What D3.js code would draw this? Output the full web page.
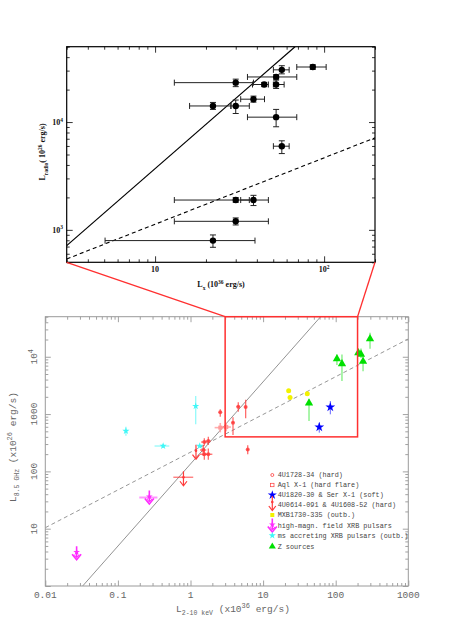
<!DOCTYPE html>
<html><head><meta charset="utf-8">
<script src="https://cdn.jsdelivr.net/npm/d3@7"></script>
<style>body{margin:0;background:#fff}svg{display:block}</style>
</head><body>
<svg id="c" width="457" height="619"></svg>
<script>
// ---------- Inset data (Z-source / atoll detail) ----------
const insetLx   = [85.7, 56.2, 52, 30, 44.2, 52, 38.2, 22, 30, 52, 56.2, 30, 38.2, 30, 22];
const insetLxLo = [68.9, 50.1, 35.2, 13.0, 37.7, 50.1, 32.1, 16.0, 28.1, 35.2, 50.1, 13.0, 32.1, 13.0, 5.06];
const insetLxHi = [102.8, 62.1, 68.9, 38.2, 46.8, 58.0, 44.4, 28.1, 36.1, 68.9, 62.1, 36.1, 46.8, 46.8, 39];
const insetLr   = [32400, 30500, 26200, 23200, 22300, 22300, 16300, 14100, 14100, 11100, 5970, 1890, 1890, 1200, 795];
const insetLrLo = [30800, 28000, 25000, 21300, 21300, 20500, 15300, 13100, 12000, 9040, 5100, 1800, 1680, 1110, 689];
const insetLrHi = [34000, 33300, 27500, 25000, 23300, 24500, 17400, 15200, 16000, 13100, 6700, 1990, 2090, 1290, 897];
// fits in the inset: [x, y] end points in data units
const insetSolidFit  = [[3, 714], [67.3, 50000]];
const insetDashedFit = [[3, 537], [200, 7140]];
const insetXTicks = [10, 100];
const insetYTicks = [1000, 10000];

// ---------- Main plot data: [Lx, Lr, xlo, xhi, ylo, yhi] ----------
const hard1728 = [
  [2.57,1080,2.45,2.70,900,1210],[4.55,1345,4.3,4.8,1100,1600],[5.75,1325,5.5,6.0,845,1780],
  [3.85,708,3.7,4.0,432,880],[6.14,240,5.9,6.4,200,285],[1.55,325,1.4,1.7,280,380],
  [1.76,339,1.62,1.9,290,400],[1.50,236,1.35,1.65,185,290],[1.55,199,1.35,1.75,160,250],
  [1.76,199,1.55,2.0,160,250]
];
const aqlX1 = [[2.57,580,2.15,3.0,480,700],[3.11,594,2.6,3.6,500,700]];
const softAtoll = [[84.3,1325,null,null,990,1690],[59.4,594,null,null,474,708]];
const upperLimits = [[1.19,230,null,null,null,null],[0.80,79,0.58,1.09,null,null]];
const mxb1730 = [[22.5,2560],[23.5,1950],[40.6,2260]];
const magPulsars = [[0.027,3.74,null,null],[0.271,35,0.197,0.35]];
const msPulsars = [[0.129,506,null,null,420,600],[0.42,277,0.32,0.51,255,300],
  [1.34,277,1.25,1.45,null,null],[1.18,1376,null,null,662,2060]];
const zSources = [[297,20600,13800,26200],[205,11700,10500,13500],[223,11000,9500,14000],
  [238,8280,5600,11000],[104,9230,7200,11000],[122,7550,3760,11000],[42.9,1560,755,1800]];
const mainSolidFit  = [[0.0327, 1], [62, 50000]];
const mainDashedFit = [[0.01, 10.4], [1000, 20460]];
const zoomBox = [[3, 400], [200, 50000]];
const mainXTicks = [0.01, 0.1, 1, 10, 100, 1000];
const mainXLabels = ["0.01","0.1","1","10","100","1000"];
const mainYTicks = [10, 100, 1000, 10000];
const mainYLabels = ["10","100","1000","10^4"];
const legendLabels = ["4U1728-34 (hard)","Aql X-1 (hard flare)","4U1820-30 & Ser X-1 (soft)",
  "4U0614-091 & 4U1608-52 (hard)","MXB1730-335 (outb.)","high-magn. field XRB pulsars",
  "ms accreting XRB pulsars (outb.)","Z sources"];

const svg = d3.select("#c");
const RED = "#ff3b3b", PALE = "#ff9a9a", BLUE = "#0000ff", YEL = "#f2f200",
      MAG = "#ff2cff", CYAN = "#3ff7f7", GREEN = "#00e000";

// scales
const mx = d3.scaleLog().domain([0.01, 1000]).range([45.3, 408.3]);
const my = d3.scaleLog().domain([1, 50000]).range([586, 316.7]);
const ix = d3.scaleLog().domain([3, 200]).range([66.7, 375]);
const iy = d3.scaleLog().domain([500, 50000]).range([262.3, 46.7]);

function logTicks(dom, majorOnly) {
  const t = [];
  for (let e = Math.floor(Math.log10(dom[0])) - 1; e <= Math.ceil(Math.log10(dom[1])); e++)
    for (let m = 1; m < 10; m++) {
      const v = m * Math.pow(10, e);
      if (v >= dom[0] * 0.9999 && v <= dom[1] * 1.0001 && ((m === 1) === majorOnly)) t.push(v);
    }
  return t;
}
function frameTicks(g, xs, ys, color, maj, min) {
  const x0 = xs.range()[0], x1 = xs.range()[1], y0 = ys.range()[0], y1 = ys.range()[1];
  const defs = [
    [d3.axisBottom, xs, `translate(0,${y0})`],
    [d3.axisTop, xs, `translate(0,${y1})`],
    [d3.axisLeft, ys, `translate(${x0},0)`],
    [d3.axisRight, ys, `translate(${x1},0)`]
  ];
  defs.forEach(([ax, sc, tr]) => {
    [[true, maj], [false, min]].forEach(([isMaj, len]) => {
      const a = g.append("g").attr("transform", tr).call(
        ax(sc).tickValues(logTicks(sc.domain(), isMaj)).tickSize(-len).tickSizeOuter(0).tickFormat(""));
      a.select(".domain").remove();
      a.selectAll("line").attr("stroke", color).attr("stroke-width", 0.8);
    });
  });
}
function fitLine(g, xs, ys, fit, color, w, dash) {
  const l = g.append("line")
    .attr("x1", xs(fit[0][0])).attr("y1", ys(fit[0][1]))
    .attr("x2", xs(fit[1][0])).attr("y2", ys(fit[1][1]))
    .attr("stroke", color).attr("stroke-width", w);
  if (dash) l.attr("stroke-dasharray", dash);
}

// ================= INSET =================
const ig = svg.append("g");
ig.append("defs").append("clipPath").attr("id", "iclip").append("rect")
  .attr("x", 66.7).attr("y", 46.7).attr("width", 375 - 66.7).attr("height", 262.3 - 46.7);
frameTicks(ig, ix, iy, "#000", 6, 3);
const ic = ig.append("g").attr("clip-path", "url(#iclip)");
fitLine(ic, ix, iy, insetSolidFit, "#000", 1.2);
fitLine(ic, ix, iy, insetDashedFit, "#000", 1.1, "4,3");
insetLx.forEach((x, i) => {
  const cx = ix(x), cy = iy(insetLr[i]);
  const a = ix(insetLxLo[i]), b = ix(insetLxHi[i]);
  const t = iy(insetLrHi[i]), u = iy(insetLrLo[i]);
  const seg = (x1, y1, x2, y2) => ic.append("line").attr("x1", x1).attr("y1", y1).attr("x2", x2).attr("y2", y2)
     .attr("stroke", "#222").attr("stroke-width", 1);
  seg(a, cy, b, cy); seg(a, cy - 3, a, cy + 3); seg(b, cy - 3, b, cy + 3);
  seg(cx, t, cx, u); seg(cx - 3, t, cx + 3, t); seg(cx - 3, u, cx + 3, u);
  ic.append("circle").attr("cx", cx).attr("cy", cy).attr("r", 3.2).attr("fill", "#000");
});
ig.append("rect").attr("x", 66.7).attr("y", 46.7).attr("width", 375 - 66.7).attr("height", 262.3 - 46.7)
  .attr("fill", "none").attr("stroke", "#000").attr("stroke-width", 1.2);
const serif = "'Liberation Serif','DejaVu Serif',serif";
// inset tick labels
insetXTicks.forEach((v, i) => {
  const t = ig.append("text").attr("x", ix(v)).attr("y", 272).attr("text-anchor", "middle")
    .attr("font-family", serif).attr("font-weight", "bold").attr("font-size", 8).attr("fill", "#111");
  t.append("tspan").text("10");
  if (i > 0) t.append("tspan").attr("dy", -3.5).attr("font-size", 5.5).text("2");
});
insetYTicks.forEach((v, i) => {
  const t = ig.append("text").attr("x", 63).attr("y", iy(v) + 3).attr("text-anchor", "end")
    .attr("font-family", serif).attr("font-weight", "bold").attr("font-size", 8).attr("fill", "#111");
  t.append("tspan").text("10");
  t.append("tspan").attr("dy", -3.5).attr("font-size", 5.5).text(i === 0 ? "3" : "4");
});
{
  const t = ig.append("text").attr("x", 221).attr("y", 287).attr("text-anchor", "middle")
    .attr("font-family", serif).attr("font-weight", "bold").attr("font-size", 8).attr("fill", "#111");
  t.append("tspan").text("L");
  t.append("tspan").attr("dy", 2.5).attr("font-size", 5.5).text("x");
  t.append("tspan").attr("dy", -2.5).text(" (10");
  t.append("tspan").attr("dy", -3.5).attr("font-size", 5.5).text("36");
  t.append("tspan").attr("dy", 3.5).text(" erg/s)");
  const r = ig.append("text").attr("transform", "translate(45,152) rotate(-90)").attr("text-anchor", "middle")
    .attr("font-family", serif).attr("font-weight", "bold").attr("font-size", 8).attr("fill", "#111");
  r.append("tspan").text("L");
  r.append("tspan").attr("dy", 2.5).attr("font-size", 5.5).text("radio");
  r.append("tspan").attr("dy", -2.5).text("( 10");
  r.append("tspan").attr("dy", -3.5).attr("font-size", 5.5).text("26");
  r.append("tspan").attr("dy", 3.5).text(" erg/s)");
}

// ================= MAIN =================
const mg = svg.append("g");
mg.append("defs").append("clipPath").attr("id", "mclip").append("rect")
  .attr("x", 45.3).attr("y", 316.7).attr("width", 408.3 - 45.3).attr("height", 586 - 316.7);
frameTicks(mg, mx, my, "#8a8a8a", 5.5, 3);
const mc = mg.append("g").attr("clip-path", "url(#mclip)");
fitLine(mc, mx, my, mainSolidFit, "#777", 0.8);
fitLine(mc, mx, my, mainDashedFit, "#8a8a8a", 0.9, "4,3");

function errBars(g, d, color, w, op) {
  const [x, y, xl, xh, yl, yh] = d;
  if (xl != null) g.append("line").attr("x1", mx(xl)).attr("x2", mx(xh)).attr("y1", my(y)).attr("y2", my(y))
    .attr("stroke", color).attr("stroke-width", w).attr("opacity", op);
  if (yl != null) g.append("line").attr("x1", mx(x)).attr("x2", mx(x)).attr("y1", my(yl)).attr("y2", my(yh))
    .attr("stroke", color).attr("stroke-width", w).attr("opacity", op);
}
const sym = (type, size) => d3.symbol().type(type).size(size)();

// 4U1728-34
hard1728.forEach(d => {
  errBars(mc, d, RED, 1.3, 0.75);
  mc.append("circle").attr("cx", mx(d[0])).attr("cy", my(d[1])).attr("r", 2).attr("fill", RED).attr("opacity", 0.8);
});
// Aql X-1
aqlX1.forEach(d => {
  errBars(mc, d, PALE, 1.6, 0.8);
  mc.append("rect").attr("x", mx(d[0]) - 2).attr("y", my(d[1]) - 2).attr("width", 4).attr("height", 4)
    .attr("fill", PALE);
});
// upper limits (red arrows)
function redArrow(g, cx, cy) {
  g.append("line").attr("x1", cx).attr("x2", cx).attr("y1", cy - 6).attr("y2", cy + 8)
    .attr("stroke", RED).attr("stroke-width", 1.2);
  g.append("path").attr("d", `M${cx - 3.5},${cy + 4} L${cx},${cy + 8.5} L${cx + 3.5},${cy + 4}`)
    .attr("fill", "none").attr("stroke", RED).attr("stroke-width", 1.2);
  g.append("circle").attr("cx", cx).attr("cy", cy).attr("r", 1.3).attr("fill", RED);
}
upperLimits.forEach(d => {
  errBars(mc, d, RED, 1.3, 0.7);
  redArrow(mc, mx(d[0]), my(d[1]));
});
// soft atolls
softAtoll.forEach(d => {
  errBars(mc, d, BLUE, 1, 0.6);
  mc.append("path").attr("d", sym(d3.symbolStar, 30)).attr("transform", `translate(${mx(d[0])},${my(d[1])})`)
    .attr("fill", BLUE);
});
// MXB1730
mxb1730.forEach(d => {
  mc.append("circle").attr("cx", mx(d[0])).attr("cy", my(d[1])).attr("r", 2.5).attr("fill", YEL);
});
// magnetic pulsars
function magArrow(g, cx, cy) {
  g.append("line").attr("x1", cx).attr("x2", cx).attr("y1", cy - 7).attr("y2", cy + 4)
    .attr("stroke", MAG).attr("stroke-width", 1.6);
  g.append("path").attr("d", `M${cx - 4.5},${cy + 1} L${cx},${cy + 6.5} L${cx + 4.5},${cy + 1}`)
    .attr("fill", "none").attr("stroke", MAG).attr("stroke-width", 1.6);
  g.append("path").attr("d", `M${cx - 2.5},${cy + 1.5} L${cx},${cy + 4.5} L${cx + 2.5},${cy + 1.5}`)
    .attr("fill", "none").attr("stroke", MAG).attr("stroke-width", 1);
  g.append("path").attr("d", sym(d3.symbolStar, 14)).attr("transform", `translate(${cx},${cy - 1})`).attr("fill", MAG);
}
magPulsars.forEach(d => {
  if (d[2] != null) mc.append("line").attr("x1", mx(d[2])).attr("x2", mx(d[3])).attr("y1", my(d[1])).attr("y2", my(d[1]))
    .attr("stroke", MAG).attr("stroke-width", 2).attr("opacity", 0.5);
  magArrow(mc, mx(d[0]), my(d[1]));
});
// ms pulsars
msPulsars.forEach(d => {
  errBars(mc, d, CYAN, 1.2, 0.6);
  mc.append("path").attr("d", sym(d3.symbolStar, 16)).attr("transform", `translate(${mx(d[0])},${my(d[1])})`)
    .attr("fill", CYAN);
});
// Z sources
zSources.forEach(d => {
  mc.append("line").attr("x1", mx(d[0])).attr("x2", mx(d[0])).attr("y1", my(d[2])).attr("y2", my(d[3]))
    .attr("stroke", GREEN).attr("stroke-width", 1.2).attr("opacity", 0.55);
  mc.append("path").attr("d", sym(d3.symbolTriangle, 30)).attr("transform", `translate(${mx(d[0])},${my(d[1])})`)
    .attr("fill", GREEN);
});

// frame
mg.append("rect").attr("x", 45.3).attr("y", 316.7).attr("width", 408.3 - 45.3).attr("height", 586 - 316.7)
  .attr("fill", "none").attr("stroke", "#9a9a9a").attr("stroke-width", 1);

// zoom box and connectors
const bx0 = mx(zoomBox[0][0]), bx1 = mx(zoomBox[1][0]), by0 = my(zoomBox[1][1]), by1 = my(zoomBox[0][1]);
svg.append("rect").attr("x", bx0).attr("y", by0).attr("width", bx1 - bx0).attr("height", by1 - by0)
  .attr("fill", "none").attr("stroke", "#ff3030").attr("stroke-width", 1.5);
svg.append("line").attr("x1", ix.range()[0]).attr("y1", iy.range()[0]).attr("x2", bx0).attr("y2", by0)
  .attr("stroke", "#ff3030").attr("stroke-width", 1.3);
svg.append("line").attr("x1", ix.range()[1]).attr("y1", iy.range()[0]).attr("x2", bx1).attr("y2", by0)
  .attr("stroke", "#ff3030").attr("stroke-width", 1.3);

// main tick labels
const mono = "'Liberation Mono','DejaVu Sans Mono',monospace";
mainXTicks.forEach((v, i) => {
  mg.append("text").attr("x", mx(v)).attr("y", 598).attr("text-anchor", "middle")
    .attr("font-family", mono).attr("font-size", 9.5).attr("fill", "#666").text(mainXLabels[i]);
});
mainYTicks.forEach((v, i) => {
  const t = mg.append("text").attr("transform", `translate(37,${my(v)}) rotate(-90)`).attr("text-anchor", "middle")
    .attr("font-family", mono).attr("font-size", 9.5).attr("fill", "#666");
  const lab = mainYLabels[i];
  if (lab.includes("^")) {
    const [b, e] = lab.split("^");
    t.append("tspan").text(b);
    t.append("tspan").attr("dy", -4).attr("font-size", 7).text(e);
  } else t.text(lab);
});
{
  const t = mg.append("text").attr("x", 233).attr("y", 612).attr("text-anchor", "middle")
    .attr("font-family", mono).attr("font-size", 9.5).attr("fill", "#666");
  t.append("tspan").text("L");
  t.append("tspan").attr("dy", 3).attr("font-size", 6.5).text("2-10 keV");
  t.append("tspan").attr("dy", -3).text(" (x10");
  t.append("tspan").attr("dy", -4).attr("font-size", 7).text("36");
  t.append("tspan").attr("dy", 4).text(" erg/s)");
  const r = mg.append("text").attr("transform", "translate(16,447) rotate(-90)").attr("text-anchor", "middle")
    .attr("font-family", mono).attr("font-size", 9.5).attr("fill", "#666");
  r.append("tspan").text("L");
  r.append("tspan").attr("dy", 3).attr("font-size", 6.5).text("8.5 GHz");
  r.append("tspan").attr("dy", -3).text(" (x10");
  r.append("tspan").attr("dy", -4).attr("font-size", 7).text("26");
  r.append("tspan").attr("dy", 4).text(" erg/s)");
}

// legend
const legY = [475, 485, 495, 505, 515, 525.5, 535.5, 546.5];
const lx = 272.3;
legendLabels.forEach((s, i) => {
  mg.append("text").attr("x", 277.7).attr("y", legY[i] + 2.3).attr("font-family", mono).attr("font-size", 6.8)
    .attr("fill", "#444").text(s);
});
mg.append("circle").attr("cx", lx).attr("cy", legY[0]).attr("r", 1.5).attr("fill", "none").attr("stroke", RED).attr("stroke-width", 0.8);
mg.append("rect").attr("x", lx - 1.7).attr("y", legY[1] - 1.7).attr("width", 3.4).attr("height", 3.4).attr("fill", "none").attr("stroke", RED).attr("stroke-width", 0.7);
mg.append("path").attr("d", sym(d3.symbolStar, 26)).attr("transform", `translate(${lx},${legY[2]})`).attr("fill", BLUE);
redArrow(mg, lx, legY[3] - 3);
mg.append("rect").attr("x", lx - 2).attr("y", legY[4] - 2).attr("width", 4).attr("height", 4).attr("fill", YEL);
magArrow(mg, lx, legY[5]);
mg.append("path").attr("d", sym(d3.symbolStar, 16)).attr("transform", `translate(${lx},${legY[6]})`).attr("fill", CYAN);
mg.append("path").attr("d", sym(d3.symbolTriangle, 22)).attr("transform", `translate(${lx},${legY[7]})`).attr("fill", GREEN);
</script>
</body></html>
